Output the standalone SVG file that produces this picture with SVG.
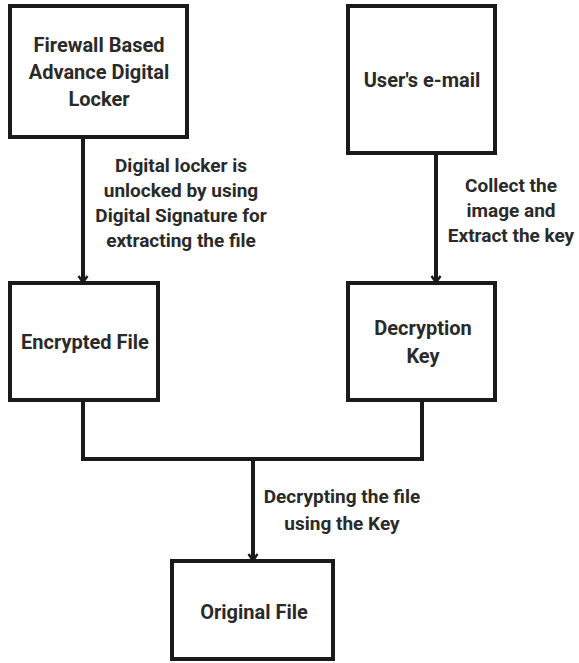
<svg xmlns="http://www.w3.org/2000/svg" width="579" height="663" viewBox="0 0 579 663">
<defs>
<style>
.box{fill:#fff;stroke:#1a1a1a;stroke-width:4}
.ln{fill:none;stroke:#1a1a1a;stroke-width:4}
.t{font-family:Roboto,"Liberation Sans",sans-serif;font-weight:bold;font-size:20px;fill:#2a2a2a;text-anchor:middle}
.l{font-family:Roboto,"Liberation Sans",sans-serif;font-weight:bold;font-size:19px;fill:#2a2a2a;text-anchor:middle}
</style>
<marker id="ah" viewBox="0 0 12 12" refX="11" refY="6" markerWidth="12" markerHeight="12" markerUnits="userSpaceOnUse" orient="auto">
<path d="M4,1.5 L10.5,6 L4,10.5" fill="none" stroke="#1a1a1a" stroke-width="2.4"/>
</marker>
</defs>
<rect width="579" height="663" fill="#fff"/>
<g id="firewall">
<rect class="box" x="10" y="6" width="177" height="131"/>
<text class="t" x="99" y="52">Firewall Based</text>
<text class="t" x="99" y="79">Advance Digital</text>
<text class="t" x="99" y="106">Locker</text>
</g>
<g id="email">
<rect class="box" x="348" y="6" width="147" height="147"/>
<text class="t" x="422" y="87">User's e-mail</text>
</g>
<g id="encrypted">
<rect class="box" x="10" y="283" width="148" height="117"/>
<text class="t" x="85" y="349">Encrypted File</text>
</g>
<g id="decryption">
<rect class="box" x="348" y="283" width="147" height="117"/>
<text class="t" x="423" y="335">Decryption</text>
<text class="t" x="423" y="363">Key</text>
</g>
<g id="original">
<rect class="box" x="172" y="561" width="161" height="98"/>
<text class="t" x="254" y="619">Original File</text>
</g>
<g id="connectors">
<path class="ln" d="M83,137 V283" marker-end="url(#ah)"/>
<path class="ln" d="M436,153 V283" marker-end="url(#ah)"/>
<path class="ln" d="M83,400 V459 H422 V400"/>
<path class="ln" d="M253,459 V561" marker-end="url(#ah)"/>
<text class="l" x="181" y="172">Digital locker is</text>
<text class="l" x="181" y="197">unlocked by using</text>
<text class="l" x="181" y="222">Digital Signature for</text>
<text class="l" x="181" y="247">extracting the file</text>
<text class="l" x="511" y="192">Collect the</text>
<text class="l" x="511" y="217">image and</text>
<text class="l" x="511" y="242">Extract the key</text>
<text class="l" x="342" y="503">Decrypting the file</text>
<text class="l" x="342" y="530">using the Key</text>
</g>
</svg>
